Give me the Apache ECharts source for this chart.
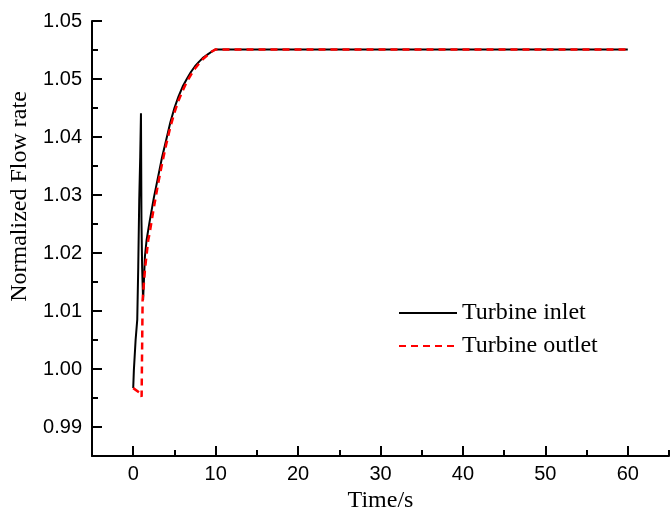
<!DOCTYPE html>
<html>
<head>
<meta charset="utf-8">
<script src="https://cdn.jsdelivr.net/npm/echarts@6/dist/echarts.min.js"></script>
<style>
  html, body { margin: 0; padding: 0; background: #fff; }
  #chart { width: 671px; height: 515px; }
</style>
</head>
<body>
<div id="chart"></div>
<script>
// turbine inlet (black solid)
var inletTime = [0, 0.08, 0.29, 0.49, 0.61, 0.73, 0.85, 0.94, 1.0, 1.08, 1.2, 1.42, 1.62, 2.0, 2.5, 3.0, 3.5, 4.0, 4.5, 5.0, 5.5, 6.0, 6.5, 7.0, 7.5, 8.0, 8.5, 9.0, 9.5, 10.0, 60]
var inletFlow = [0.9967, 0.9998, 1.0050, 1.0085, 1.0176, 1.0291, 1.0366, 1.0441, 1.0257, 1.0176, 1.0119, 1.0194, 1.0222, 1.0255, 1.0295, 1.0330, 1.0365, 1.0395, 1.0425, 1.0450, 1.0470, 1.0487, 1.0500, 1.0512, 1.0522, 1.0530, 1.0537, 1.0542, 1.0547, 1.0551, 1.0551]

// turbine outlet (red dashed)
var outletTime = [0, 0.9, 1.02, 1.14, 1.42, 1.82, 2.0, 2.5, 3.0, 3.5, 4.0, 4.5, 5.0, 5.5, 6.0, 6.5, 7.0, 7.5, 8.0, 8.5, 9.0, 9.5, 10.0, 60]
var outletFlow = [0.9967, 0.9958, 0.9952, 1.0119, 1.0171, 1.0222, 1.0235, 1.0278, 1.0318, 1.0354, 1.0387, 1.0417, 1.0442, 1.0463, 1.0480, 1.0495, 1.0507, 1.0518, 1.0527, 1.0535, 1.0541, 1.0547, 1.0551, 1.0551]

// axis ticks
var xMajorTicks = [0, 10, 20, 30, 40, 50, 60]
var xMinorTicks = [5, 15, 25, 35, 45, 55, 65]
var yMajorTicks = [0.99, 1.00, 1.01, 1.02, 1.03, 1.04, 1.05, 1.06]
var yTickLabels = ['0.99', '1.00', '1.01', '1.02', '1.03', '1.04', '1.05', '1.05']
var yMinorTicks = [0.985, 0.995, 1.005, 1.015, 1.025, 1.035, 1.045, 1.055]

function pairs (xs, ys) {
    var out = []
    for (var i = 0; i < xs.length; i++) {
        out.push([xs[i], ys[i]])
    }
    return out
}

var chart = echarts.init(document.getElementById('chart'))

var sansLabel = { fontFamily: 'Liberation Sans', fontSize: 20, color: '#000' }
var serifName = { fontFamily: 'Liberation Serif', fontSize: 24, color: '#000' }

var option = {
    backgroundColor: '#fff',
    animation: false,
    grid: { left: 92, right: 2, top: 21, bottom: 59, outerBoundsMode: 'none' },
    legend: {
        orient: 'vertical',
        left: 393,
        top: 296,
        itemWidth: 58,
        itemHeight: 14,
        itemGap: 9,
        itemStyle: { opacity: 0 },
        textStyle: { fontFamily: 'Liberation Serif', fontSize: 24, lineHeight: 24, color: '#000' },
        data: ['Turbine inlet', 'Turbine outlet']
    },
    xAxis: [{
        type: 'value',
        position: 'bottom',
        min: -5,
        max: 65,
        name: 'Time/s',
        nameLocation: 'middle',
        nameGap: 32,
        nameTextStyle: serifName,
        axisLine: { onZero: false, lineStyle: { color: '#000', width: 2 } },
        axisTick: { inside: true, length: 10, customValues: xMajorTicks, lineStyle: { color: '#000', width: 2 } },
        axisLabel: { customValues: xMajorTicks, margin: 8, ...sansLabel },
        splitLine: { show: false }
    }, {
        type: 'value',
        position: 'bottom',
        offset: 0,
        min: -5,
        max: 65,
        axisLine: { show: false, onZero: false },
        axisTick: { inside: true, length: 6, customValues: xMinorTicks, lineStyle: { color: '#000', width: 2 } },
        axisLabel: { show: false },
        splitLine: { show: false }
    }],
    yAxis: [{
        type: 'value',
        position: 'left',
        min: 0.985,
        max: 1.06,
        name: 'Normalized Flow rate',
        nameLocation: 'middle',
        nameGap: 57,
        nameTextStyle: { ...serifName, padding: [0, 0, 0, 84] },
        axisLine: { onZero: false, lineStyle: { color: '#000', width: 2 } },
        axisTick: { inside: true, length: 10, customValues: yMajorTicks, lineStyle: { color: '#000', width: 2 } },
        axisLabel: {
            customValues: yMajorTicks,
            margin: 10,
            ...sansLabel,
            formatter: function (v) {
                var idx = Math.round((v - 0.99) * 100)
                return yTickLabels[idx]
            }
        },
        splitLine: { show: false }
    }, {
        type: 'value',
        position: 'left',
        offset: 0,
        min: 0.985,
        max: 1.06,
        axisLine: { show: false, onZero: false },
        axisTick: { inside: true, length: 6, customValues: yMinorTicks, lineStyle: { color: '#000', width: 2 } },
        axisLabel: { show: false },
        splitLine: { show: false }
    }],
    series: [{
        name: 'Turbine inlet',
        type: 'line',
        xAxisIndex: 0,
        yAxisIndex: 0,
        symbol: 'none',
        lineStyle: { color: '#000', width: 2 },
        itemStyle: { color: '#000' },
        data: pairs(inletTime, inletFlow)
    }, {
        name: 'Turbine outlet',
        type: 'line',
        xAxisIndex: 0,
        yAxisIndex: 0,
        symbol: 'none',
        lineStyle: { color: '#ff0000', width: 2.5, type: [7, 5] },
        itemStyle: { color: '#ff0000' },
        data: pairs(outletTime, outletFlow)
    }]
}

chart.setOption(option)
</script>
</body>
</html>
